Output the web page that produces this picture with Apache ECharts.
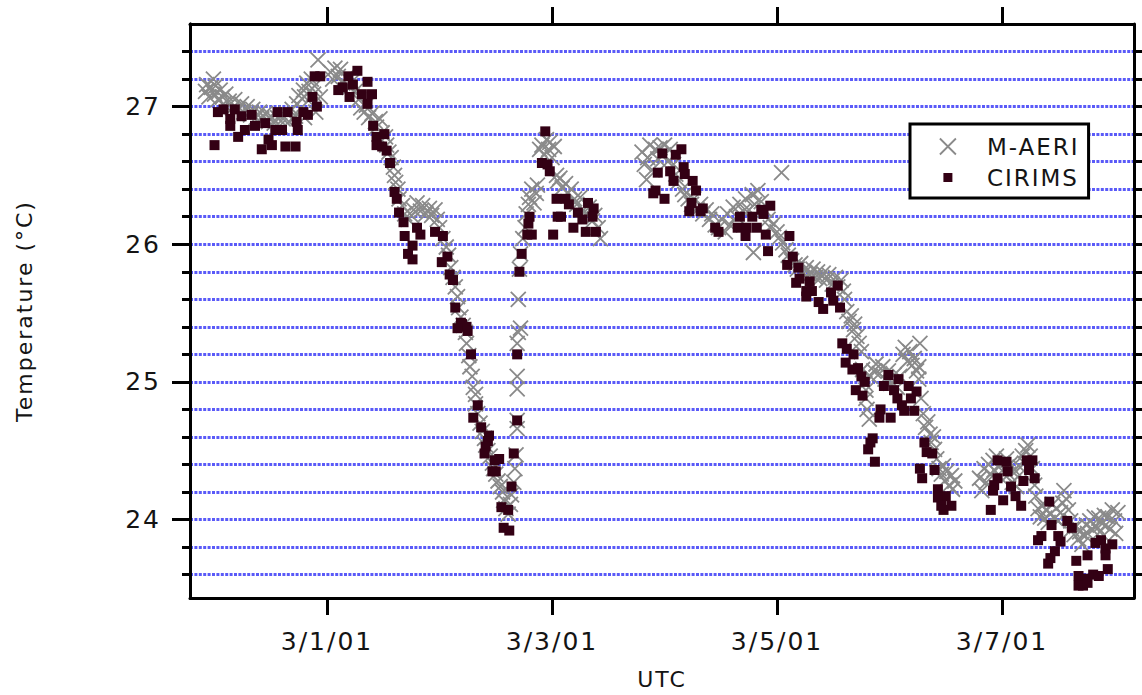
<!DOCTYPE html>
<html>
<head>
<meta charset="utf-8">
<script src="https://cdn.jsdelivr.net/npm/echarts@6/dist/echarts.min.js"></script>
<style>
  html, body { margin: 0; padding: 0; background: #fff; }
  #chart { width: 1142px; height: 695px; }
  #chart text { letter-spacing: 2px; }
</style>
</head>
<body>
<div id="chart"></div>
<script>
// ---- data (x = days since 2001-03-01 00:00 UTC, y = temperature °C) ----
const xTickValues = [0, 2, 4, 6];
const xTickLabels = ['3/1/01', '3/3/01', '3/5/01', '3/7/01'];
const yMajorTicks = [24, 25, 26, 27];
const yMinorTicks = [23.6, 23.8, 24, 24.2, 24.4, 24.6, 24.8, 25, 25.2, 25.4, 25.6, 25.8, 26, 26.2, 26.4, 26.6, 26.8, 27, 27.2, 27.4];
const xRange = [-1.218, 7.173];
const yRange = [23.43, 27.6];

const maeriPoints = [
  [-1.08,27.11],[-1.07,27.16],[-1.05,27.07],[-1.03,27.14],[-1.01,27.2],[-1.0,27.09],[-0.99,27.15],[-0.97,27.05],
  [-0.95,27.12],[-0.93,27.07],[-0.92,27.02],[-0.9,27.09],[-0.87,27.04],[-0.84,26.99],[-0.82,27.05],[-0.79,26.98],
  [-0.76,27.02],[-0.74,26.96],[-0.71,27.0],[-0.68,26.94],[-0.66,26.98],[-0.63,26.92],[-0.6,26.96],[-0.58,26.91],
  [-0.55,26.95],[-0.52,26.89],[-0.5,26.93],[-0.47,26.88],[-0.44,26.92],[-0.42,26.86],[-0.39,26.91],[-0.36,26.95],
  [-0.34,26.89],[-0.31,26.98],[-0.28,26.93],[-0.27,27.02],[-0.25,27.08],[-0.23,26.99],[-0.21,27.12],[-0.2,27.07],
  [-0.18,27.17],[-0.16,27.11],[-0.14,27.2],[-0.12,27.09],[-0.11,27.15],[-0.08,27.34],[-0.06,27.07],[-0.2,26.92],[-0.1,26.96],
  [0.03,27.25],[0.05,27.2],[0.07,27.28],[0.1,27.22],[0.12,27.27],[0.14,27.17],[0.17,27.21],[0.2,27.14],
  [0.22,27.18],[0.25,27.11],[0.28,27.05],[0.3,26.99],[0.33,26.96],[0.35,27.01],[0.37,26.92],[0.4,26.95],
  [0.43,26.89],[0.44,26.85],[0.47,26.91],[0.49,26.81],[0.52,26.78],[0.53,26.72],[0.55,26.67],[0.57,26.63],
  [0.59,26.56],[0.6,26.5],[0.61,26.45],[0.63,26.4],[0.64,26.33],[0.67,26.28],[0.69,26.22],[0.72,26.18],
  [0.75,26.21],[0.77,26.25],[0.8,26.3],[0.83,26.24],[0.85,26.28],[0.88,26.22],[0.91,26.26],[0.93,26.21],
  [0.96,26.25],[0.98,26.18],[1.0,26.12],[1.03,26.04],[1.06,25.98],[1.08,25.92],[1.1,25.83],[1.12,25.76],
  [1.14,25.69],[1.16,25.62],[1.17,25.54],[1.19,25.47],[1.21,25.41],[1.23,25.36],[1.24,25.28],[1.26,25.19],
  [1.27,25.11],[1.29,25.04],[1.3,24.96],[1.32,24.91],[1.32,24.84],[1.34,24.77],[1.36,24.7],[1.38,24.64],
  [1.4,24.59],[1.41,24.54],[1.43,24.5],[1.45,24.46],[1.47,24.41],[1.48,24.37],[1.5,24.33],[1.52,24.28],
  [1.54,24.24],[1.56,24.2],[1.57,24.14],[1.59,24.08],[1.61,24.04],[1.63,24.11],[1.64,24.18],[1.66,24.27],
  [1.67,24.37],[1.68,24.47],[1.69,24.66],[1.69,24.72],[1.69,24.95],[1.69,25.04],[1.69,25.28],[1.7,25.36],
  [1.7,25.6],[1.72,25.39],[1.71,25.82],[1.72,25.93],[1.74,26.04],[1.76,26.12],[1.77,26.22],[1.79,26.29],
  [1.8,26.34],[1.82,26.4],[1.84,26.3],[1.86,26.37],[1.87,26.43],[1.89,26.69],[1.91,26.72],[1.93,26.65],
  [1.95,26.76],[1.97,26.69],[1.98,26.74],[2.0,26.63],[2.02,26.71],[2.04,26.5],[2.05,26.46],[2.07,26.48],
  [2.09,26.41],[2.12,26.44],[2.14,26.37],[2.17,26.4],[2.2,26.33],[2.22,26.29],[2.25,26.34],[2.28,26.25],
  [2.3,26.22],[2.33,26.27],[2.36,26.17],[2.38,26.21],[2.41,26.12],[2.43,26.04],
  [2.8,26.67],[2.82,26.58],[2.84,26.47],[2.85,26.63],[2.87,26.72],[2.89,26.54],[2.92,26.69],[2.94,26.62],
  [2.96,26.7],[2.99,26.65],[3.0,26.72],[3.03,26.6],[3.05,26.69],[3.08,26.58],[3.1,26.51],[3.13,26.46],
  [3.16,26.4],[3.18,26.36],[3.21,26.33],[3.24,26.29],[3.26,26.33],[3.29,26.25],[3.32,26.29],[3.34,26.22],
  [3.37,26.25],[3.4,26.18],[3.42,26.22],[3.45,26.14],[3.48,26.12],[3.51,26.18],[3.54,26.09],[3.56,26.22],
  [3.58,26.14],[3.61,26.27],[3.64,26.2],[3.67,26.29],[3.7,26.24],[3.72,26.33],[3.75,26.25],[3.78,26.36],
  [3.79,25.94],[3.8,26.29],[3.83,26.39],[3.86,26.31],[3.89,26.25],[3.92,26.18],[3.94,26.12],[3.97,26.15],
  [4.0,26.09],[4.04,26.52],[4.02,26.05],[4.05,26.01],[4.08,25.96],[4.1,25.92],[4.13,25.88],[4.16,25.85],
  [4.18,25.82],[4.21,25.86],[4.24,25.79],[4.26,25.83],[4.29,25.78],[4.32,25.82],[4.34,25.76],[4.36,25.8],
  [4.38,25.75],[4.41,25.79],[4.44,25.74],[4.46,25.78],[4.49,25.71],[4.52,25.76],[4.54,25.69],[4.57,25.74],
  [4.59,25.66],[4.6,25.6],[4.62,25.51],[4.64,25.44],[4.66,25.48],[4.68,25.38],[4.69,25.42],[4.71,25.33],
  [4.73,25.28],[4.75,25.22],[4.76,25.09],[4.78,24.99],[4.79,24.88],[4.8,24.8],[4.82,24.73],[4.79,24.94],
  [4.83,25.04],[4.86,25.08],[4.88,25.13],[4.91,25.06],[4.94,25.11],[4.96,25.02],[4.99,25.08],[5.01,24.99],
  [5.04,25.05],[5.07,24.96],[5.09,25.04],[5.12,25.2],[5.14,25.25],[5.16,25.15],[5.18,25.22],[5.2,25.12],
  [5.22,25.17],[5.24,25.08],[5.26,25.11],[5.26,25.02],[5.27,25.28],[5.28,24.88],[5.3,24.77],[5.32,24.67],
  [5.34,24.71],[5.36,24.62],[5.37,24.56],[5.39,24.6],[5.4,24.51],[5.42,24.44],[5.44,24.37],[5.46,24.33],
  [5.48,24.39],[5.49,24.28],[5.51,24.35],[5.53,24.25],[5.55,24.32],[5.56,24.22],[5.58,24.28],
  [5.8,24.3],[5.82,24.21],[5.84,24.37],[5.86,24.27],[5.88,24.4],[5.9,24.33],[5.92,24.43],[5.93,24.36],
  [5.95,24.46],[5.97,24.38],[5.98,24.31],[6.0,24.41],[6.02,24.37],[6.04,24.44],[6.06,24.33],[6.07,24.4],
  [6.09,24.27],[6.11,24.36],[6.13,24.24],[6.14,24.31],[6.16,24.38],[6.18,24.46],[6.2,24.41],[6.21,24.5],
  [6.23,24.54],[6.25,24.46],[6.27,24.37],[6.29,24.25],[6.3,24.17],[6.32,24.08],[6.34,24.02],[6.36,24.1],
  [6.38,24.01],[6.39,24.07],[6.41,23.98],[6.43,24.04],[6.45,24.11],[6.47,24.01],[6.48,24.08],[6.5,23.99],
  [6.52,24.05],[6.54,24.12],[6.55,24.21],[6.57,24.15],[6.59,24.07],[6.61,23.99],[6.62,23.93],[6.64,23.89],
  [6.66,23.95],[6.68,23.86],[6.69,23.91],[6.71,23.82],[6.73,23.89],[6.75,23.96],[6.76,23.9],[6.78,23.99],
  [6.8,23.93],[6.82,24.02],[6.84,23.95],[6.86,24.01],[6.87,23.91],[6.89,23.97],[6.91,24.03],[6.92,23.96],
  [6.94,24.02],[6.96,23.93],[6.98,24.07],[7.0,23.99],[7.01,23.9],[7.03,24.05]
];

const cirimsPoints = [
  [-1.0,26.72],[-0.97,26.96],[-0.92,26.98],[-0.86,26.91],[-0.86,26.86],[-0.82,26.98],[-0.79,26.78],[-0.76,26.93],
  [-0.73,26.83],[-0.67,26.94],[-0.64,26.86],[-0.58,26.69],[-0.55,26.88],[-0.52,26.76],[-0.49,26.72],[-0.46,26.83],
  [-0.44,26.96],[-0.4,26.83],[-0.37,26.71],[-0.35,26.96],[-0.28,26.71],[-0.27,26.89],[-0.26,26.83],[-0.21,26.96],
  [-0.17,26.94],[-0.13,27.07],[-0.09,27.0],[-0.11,27.22],[-0.06,27.22],
  [0.19,27.22],[0.27,27.26],[0.23,27.16],[0.14,27.14],[0.1,27.12],[0.36,27.18],[0.31,27.09],[0.4,27.09],
  [0.2,27.07],[0.36,27.02],[0.41,26.86],[0.44,26.78],[0.51,26.8],[0.44,26.72],[0.49,26.71],[0.53,26.68],
  [0.56,26.59],[0.6,26.38],[0.62,26.33],[0.64,26.23],[0.68,26.16],[0.8,26.12],[0.83,26.07],[0.76,25.99],
  [0.72,25.93],[0.76,25.89],[0.69,26.06],[0.96,26.09],[1.03,26.06],[1.07,25.91],[1.02,25.87],[1.09,25.78],
  [1.12,25.74],[1.14,25.54],[1.19,25.43],[1.24,25.4],[1.2,25.42],[1.16,25.39],[1.25,25.37],[1.28,25.2],
  [1.34,24.83],[1.3,24.74],[1.37,24.67],[1.44,24.61],[1.43,24.57],[1.41,24.53],[1.4,24.48],[1.49,24.43],
  [1.53,24.44],[1.47,24.35],[1.5,24.35],[1.64,24.24],[1.55,24.09],[1.61,24.07],[1.57,23.94],[1.62,23.92],
  [1.69,25.2],[1.69,24.72],[1.66,24.48],[1.71,25.8],[1.73,25.93],[1.78,26.07],[1.82,26.07],[1.79,26.15],
  [1.8,26.2],[1.94,26.82],[1.91,26.59],[1.96,26.58],[1.98,26.53],[2.04,26.33],[2.05,26.2],[2.12,26.33],
  [2.08,26.2],[2.15,26.29],[2.19,26.12],[2.01,26.07],[2.23,26.23],[2.32,26.3],[2.37,26.26],[2.27,26.18],
  [2.3,26.09],[2.39,26.09],[2.36,26.2],
  [2.98,26.66],[3.1,26.65],[3.15,26.69],[3.17,26.56],[3.05,26.53],[2.94,26.52],[3.08,26.46],[3.18,26.51],
  [3.25,26.46],[3.28,26.39],[2.92,26.39],[2.9,26.37],[3.0,26.33],[3.24,26.3],[3.34,26.26],[3.22,26.24],
  [3.32,26.24],[3.45,26.12],[3.48,26.09],[3.67,26.2],[3.78,26.2],[3.86,26.25],[3.94,26.28],[3.88,26.22],
  [3.65,26.12],[3.73,26.12],[3.82,26.12],[3.72,26.06],[3.9,26.07],[3.92,25.95],[4.11,26.06],[4.14,25.91],
  [4.09,25.85],[4.19,25.83],[4.2,25.75],[4.17,25.72],[4.29,25.73],[4.26,25.66],[4.31,25.66],[4.26,25.62],
  [4.37,25.58],[4.41,25.53],[4.48,25.65],[4.54,25.7],[4.5,25.59],[4.56,25.54],[4.58,25.28],[4.62,25.24],
  [4.68,25.2],[4.61,25.14],[4.67,25.09],[4.72,25.1],[4.75,25.04],[4.78,25.0],[4.7,24.94],[4.76,24.9],
  [4.99,25.05],[5.08,25.02],[5.17,24.97],[4.95,24.97],[5.04,24.94],[5.24,24.93],[5.19,24.88],[5.07,24.88],
  [5.11,24.83],[5.13,24.79],[5.22,24.79],[4.92,24.8],[4.91,24.74],[5.01,24.74],[4.85,24.59],[4.83,24.56],
  [4.81,24.51],[4.87,24.42],[5.31,24.56],[5.33,24.49],[5.38,24.48],[5.27,24.37],[5.29,24.3],[5.4,24.36],
  [5.43,24.22],[5.5,24.17],[5.43,24.16],[5.55,24.1],[5.46,24.1],[5.48,24.07],
  [5.96,24.43],[6.04,24.42],[6.05,24.35],[5.96,24.3],[5.93,24.25],[5.92,24.21],[6.01,24.14],[5.9,24.07],
  [6.08,24.24],[6.12,24.17],[6.17,24.1],[6.19,24.28],[6.22,24.43],[6.27,24.43],[6.24,24.36],[6.29,24.3],
  [6.42,24.13],[6.44,23.96],[6.35,23.88],[6.32,23.85],[6.5,23.88],[6.52,23.84],[6.58,23.99],[6.62,23.94],
  [6.47,23.77],[6.43,23.72],[6.41,23.68],[6.66,23.7],[6.76,23.74],[6.83,23.83],[6.88,23.85],[6.92,23.79],
  [6.92,23.74],[6.94,23.64],[6.98,23.82],[6.68,23.59],[6.74,23.57],[6.81,23.6],[6.86,23.59],[6.68,23.52],
  [6.72,23.52],[6.76,23.54]
];

// ---- chart ----
const FONT = 'DejaVu Sans';
const INK = '#141414';
const GRAY = '#8a8a8a';
const MAROON = '#330014';
const xSymbol = 'path://M0,0L10,10M10,0L0,10';

const chart = echarts.init(document.getElementById('chart'), null, { renderer: 'svg' });

function xAxisBase(pos) {
  return {
    type: 'value', position: pos, min: xRange[0], max: xRange[1],
    axisLine: { show: true, onZero: false, lineStyle: { color: '#000', width: 3 } },
    axisTick: { show: true, inside: false, length: 17, customValues: xTickValues, lineStyle: { color: '#000', width: 3 } },
    splitLine: { show: false }
  };
}

const option = {
  animation: false,
  backgroundColor: '#fff',
  grid: { left: 190, right: 8, top: 24, bottom: 95, containLabel: false },
  xAxis: [
    Object.assign(xAxisBase('bottom'), {
      name: 'UTC', nameLocation: 'middle', nameGap: 70,
      nameTextStyle: { fontFamily: FONT, fontSize: 22, color: INK },
      axisLabel: {
        show: true, margin: 31, customValues: xTickValues,
        fontFamily: FONT, fontSize: 25, color: INK,
        formatter: v => xTickLabels[xTickValues.indexOf(v)]
      }
    }),
    Object.assign(xAxisBase('top'), { axisLabel: { show: false } })
  ],
  yAxis: [
    {
      type: 'value', position: 'left', min: yRange[0], max: yRange[1],
      axisLine: { show: true, onZero: false, lineStyle: { color: '#000', width: 3 } },
      axisTick: { show: true, inside: false, length: 8, customValues: yMinorTicks, lineStyle: { color: '#000', width: 3 } },
      axisLabel: { show: false },
      splitLine: { show: true, lineStyle: { color: '#5a5af8', width: 3, type: [3, 1.4] } }
    },
    {
      type: 'value', position: 'left', min: yRange[0], max: yRange[1],
      name: 'Temperature (°C)', nameLocation: 'middle', nameRotate: 90, nameGap: 155,
      nameTextStyle: { fontFamily: FONT, fontSize: 22, color: INK },
      axisLine: { show: true, onZero: false, lineStyle: { color: '#000', width: 3 } },
      axisTick: { show: true, inside: false, length: 18, customValues: yMajorTicks, lineStyle: { color: '#000', width: 3 } },
      axisLabel: { show: true, margin: 29, customValues: yMajorTicks, fontFamily: FONT, fontSize: 25, color: INK },
      splitLine: { show: false }
    },
    {
      type: 'value', position: 'right', min: yRange[0], max: yRange[1],
      axisLine: { show: true, onZero: false, lineStyle: { color: '#000', width: 3 } },
      axisTick: { show: true, inside: false, length: 8, customValues: yMinorTicks, lineStyle: { color: '#000', width: 3 } },
      axisLabel: { show: false },
      splitLine: { show: false }
    }
  ],
  legend: {
    left: 910, top: 124, orient: 'vertical',
    itemWidth: 16, itemHeight: 16, itemGap: 8,
    padding: [11, 21, 9, 29],
    borderColor: '#000', borderWidth: 3, backgroundColor: '#fff',
    textStyle: { fontFamily: FONT, fontSize: 23, color: INK, padding: [0, 0, 0, 26] },
    data: [
      { name: 'M-AERI', icon: 'path://M0,0L16,16M16,0L0,16',
        itemStyle: { color: GRAY, borderColor: GRAY, borderWidth: 1.8 } },
      { name: 'CIRIMS', icon: 'path://M0,0M16,16M3.5,3.5L12.5,3.5L12.5,12.5L3.5,12.5Z',
        itemStyle: { color: MAROON, borderWidth: 0 } }
    ]
  },
  series: [
    {
      name: 'M-AERI', type: 'scatter', xAxisIndex: 0, yAxisIndex: 0,
      symbol: xSymbol, symbolSize: 15,
      itemStyle: { color: GRAY, borderColor: GRAY, borderWidth: 1.8, opacity: 1 },
      data: maeriPoints, z: 3
    },
    {
      name: 'CIRIMS', type: 'scatter', xAxisIndex: 0, yAxisIndex: 0,
      symbol: 'rect', symbolSize: 10,
      itemStyle: { color: MAROON, opacity: 1 },
      data: cirimsPoints, z: 4
    }
  ]
};

chart.setOption(option);
</script>
</body>
</html>
